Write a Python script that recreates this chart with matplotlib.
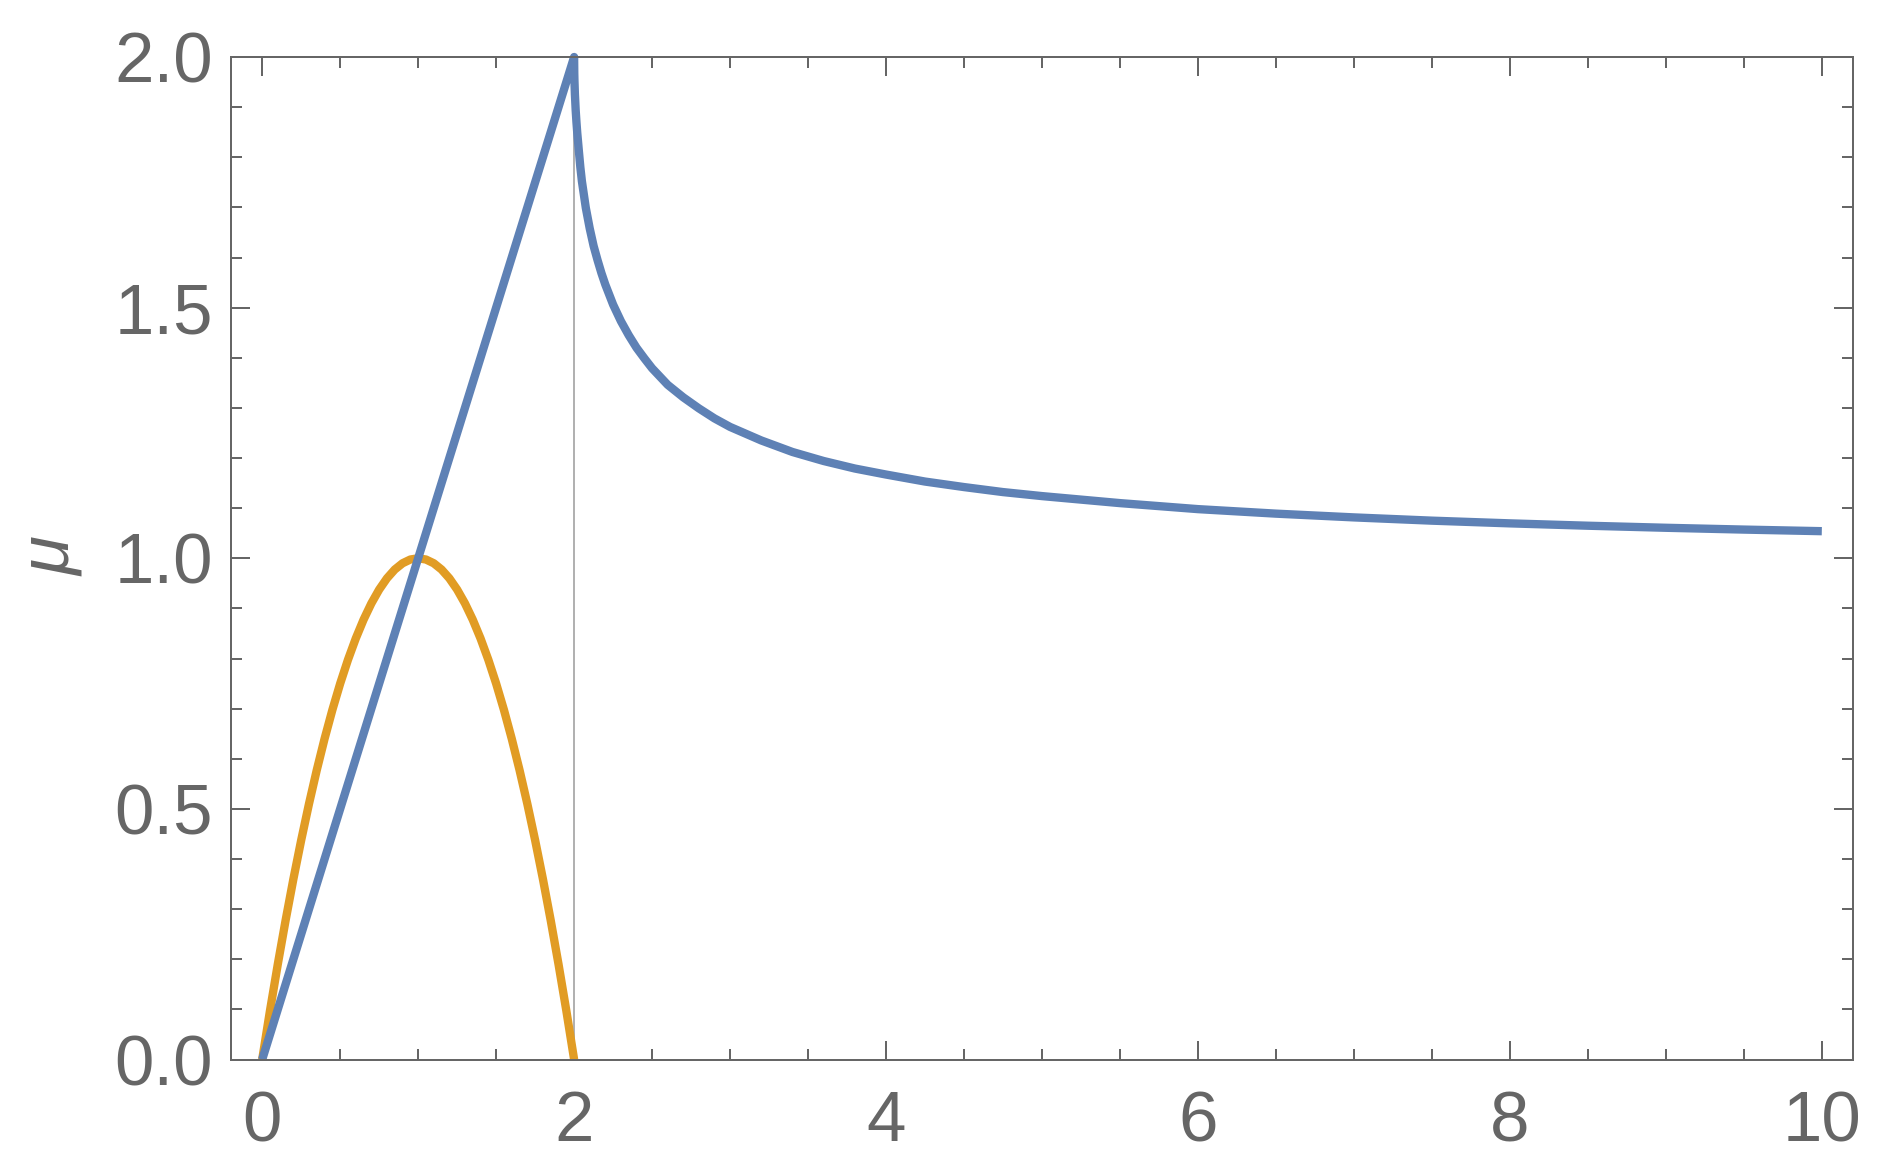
import matplotlib
matplotlib.use("Agg")
import matplotlib.pyplot as plt
from matplotlib.ticker import MultipleLocator, FixedLocator

# ---- data ----
# blue curve, rising branch
blue_rise_x = [0.0, 2.0]
blue_rise_y = [0.0, 2.0]
# blue curve, decaying branch (x > 2)
blue_decay_x = [2.0, 2.001, 2.002, 2.005, 2.01, 2.015, 2.02, 2.03, 2.04, 2.05,
                2.075, 2.1, 2.125, 2.15, 2.175, 2.2, 2.25, 2.3, 2.35, 2.4, 2.45,
                2.5, 2.6, 2.7, 2.8, 2.9, 3.0, 3.2, 3.4, 3.6, 3.8, 4.0, 4.25, 4.5,
                4.75, 5.0, 5.5, 6.0, 6.5, 7.0, 7.5, 8.0, 8.5, 9.0, 9.5, 10.0]
blue_decay_y = [2.0, 1.968, 1.954, 1.926, 1.894, 1.870, 1.849, 1.814, 1.780,
                1.752, 1.699, 1.658, 1.623, 1.595, 1.569, 1.546, 1.506, 1.473,
                1.445, 1.420, 1.399, 1.379, 1.346, 1.321, 1.299, 1.279, 1.262,
                1.235, 1.212, 1.194, 1.179, 1.167, 1.153, 1.142, 1.132, 1.124,
                1.110, 1.098, 1.089, 1.0815, 1.075, 1.0696, 1.0649, 1.0608,
                1.0572, 1.054]
# orange arch
orange_x = [0.0, 0.05, 0.1, 0.15, 0.2, 0.25, 0.3, 0.35, 0.4, 0.45, 0.5, 0.55,
            0.6, 0.65, 0.7, 0.75, 0.8, 0.85, 0.9, 0.95, 1.0, 1.05, 1.1, 1.15,
            1.2, 1.25, 1.3, 1.35, 1.4, 1.45, 1.5, 1.55, 1.6, 1.65, 1.7, 1.75,
            1.8, 1.85, 1.9, 1.95, 2.0]
orange_y = [0.0, 0.0975, 0.19, 0.2775, 0.36, 0.4375, 0.51, 0.5775, 0.64, 0.6975,
            0.75, 0.7975, 0.84, 0.8775, 0.91, 0.9375, 0.96, 0.9775, 0.99, 0.9975,
            1.0, 0.9975, 0.99, 0.9775, 0.96, 0.9375, 0.91, 0.8775, 0.84, 0.7975,
            0.75, 0.6975, 0.64, 0.5775, 0.51, 0.4375, 0.36, 0.2775, 0.19, 0.0975,
            0.0]
# thin vertical marker
vline_x = [2.0, 2.0]
vline_y = [0.0, 2.0]

x_ticks = [0, 2, 4, 6, 8, 10]
x_tick_labels = ["0", "2", "4", "6", "8", "10"]
y_ticks = [0.0, 0.5, 1.0, 1.5, 2.0]
y_tick_labels = ["0.0", "0.5", "1.0", "1.5", "2.0"]
y_label = "μ"

BLUE = "#5E81B5"
ORANGE = "#E19C24"
GRAY = "#666666"

plt.rcParams['font.family'] = ['Liberation Sans', 'DejaVu Sans']

fig = plt.figure(figsize=(18.88, 11.76), dpi=100)
ax = fig.add_axes([231/1888, 1 - 1059.5/1176, (1853-231)/1888, (1059.5-57)/1176])

ax.plot(vline_x, vline_y, color="#9a9a9a", lw=1.1, zorder=1)
ax.plot(orange_x, orange_y, color=ORANGE, lw=6.0, zorder=2, clip_on=False,
        solid_capstyle='butt', solid_joinstyle='round')
ax.plot(blue_rise_x + blue_decay_x[1:], blue_rise_y + blue_decay_y[1:],
        color=BLUE, lw=6.0, zorder=3, clip_on=False,
        solid_capstyle='butt', solid_joinstyle='round')

ax.set_xlim(-0.2, 10.2)
ax.set_ylim(0, 2)

ax.xaxis.set_major_locator(FixedLocator(x_ticks))
ax.set_xticklabels(x_tick_labels)
ax.xaxis.set_minor_locator(MultipleLocator(0.5))
ax.yaxis.set_major_locator(FixedLocator(y_ticks))
ax.set_yticklabels(y_tick_labels)
ax.yaxis.set_minor_locator(MultipleLocator(0.1))

ax.tick_params(which='both', direction='in', top=True, right=True,
               color=GRAY, width=1.44, labelcolor=GRAY, labelsize=51)
ax.tick_params(which='major', length=13.7)
ax.tick_params(which='minor', length=7.9)
ax.tick_params(axis='x', which='major', pad=22)
ax.tick_params(axis='y', which='major', pad=13)

for s in ax.spines.values():
    s.set_color(GRAY)
    s.set_linewidth(1.44)
    s.set_zorder(4)

fig.text(51.5/1888, 1 - 557/1176, y_label, rotation=90, ha='center', va='center',
         fontsize=51, color=GRAY, style='italic')

fig.savefig("out.png", dpi=100, facecolor="white")
